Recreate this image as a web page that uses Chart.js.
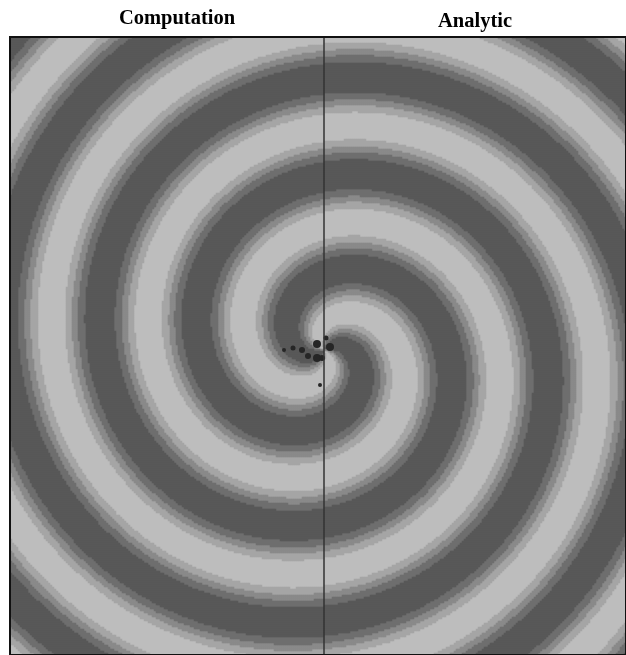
<!DOCTYPE html>
<html>
<head>
<meta charset="utf-8">
<script src="https://cdn.jsdelivr.net/npm/chart.js@4.4.0/dist/chart.umd.min.js"></script>
<style>
  html, body { margin: 0; padding: 0; background: #fff; }
  #wrap { width: 626px; height: 655px; }
</style>
</head>
<body>
<div id="wrap"><canvas id="spiral"></canvas></div>
<script>
// panel titles and where they sit (x relative to the spiral centre)
const panelTitles = ["Computation", "Analytic"];
const titleCentres = [-147, 151];

// field extent, in pixels around the spiral centre (y grows downward)
const xRange = [-314, 302];
const yRange = [-313, 305];

// contour shades, darkest first
const shades = ["#585858", "#6e6e6e", "#8a8a8a", "#a5a5a5", "#bdbdbd"];

// two-armed spiral: radial spacing between arms of the same shade
const period = 98;
// bands across one period (phase along a ray, px) and the shade of each band
const bandStart = [4, 11, 41, 48, 54, 61, 89, 96];
const bandShade = [1, 0, 1, 2, 3, 4, 3, 2];

// dark spots of the computed solution near the core
const blobX = [-7, -7, -2, -16, 6, -31, -22, -4, -40, 2];
const blobY = [-6, 8, 8, 6, -3, -2, 0, 35, 0, -12];
const blobSize = [4, 4, 3, 3, 4, 2.5, 3, 2, 2, 2.5];

const cell = 2;

function shadeAt(x, y) {
    const r = Math.sqrt(x * x + y * y);
    const theta = Math.atan2(y, x);
    let u = (r - (period / Math.PI) * theta) % period;
    if (u < 0) u += period;
    let band = bandStart.length - 1;
    for (let i = 0; i < bandStart.length; i++) {
        if (bandStart[i] <= u) band = i;
    }
    return bandShade[band];
}

// sort grid cells by shade
const cellsByShade = shades.map(() => []);
for (let y = yRange[0] + cell / 2; y < yRange[1] + cell; y += cell) {
    for (let x = xRange[0] + cell / 2; x < xRange[1] + cell; x += cell) {
        cellsByShade[shadeAt(x, y)].push({ x: x, y: y });
    }
}

const datasets = [];

// divider between the two panels (drawn on top)
datasets.push({
    type: "line",
    order: 1,
    data: [{ x: 0, y: yRange[0] }, { x: 0, y: yRange[1] }],
    borderColor: "#333",
    borderWidth: 1.5,
    pointRadius: 0,
});

datasets.push({
    type: "scatter",
    order: 2,
    data: blobX.map((x, i) => ({ x: x, y: blobY[i] })),
    backgroundColor: "#262626",
    pointRadius: blobSize,
    borderWidth: 0,
});

shades.forEach((c, i) => {
    datasets.push({
        type: "scatter",
        order: 3,
        data: cellsByShade[i],
        backgroundColor: c,
        pointStyle: "rect",
        pointRadius: 1.8,
        borderWidth: 0,
        parsing: false,
        normalized: true,
    });
});

const framePlugin = {
    id: "frame",
    afterDatasetsDraw(chart) {
        const a = chart.chartArea;
        const ctx = chart.ctx;
        ctx.save();
        ctx.strokeStyle = "#111";
        ctx.lineWidth = 2;
        ctx.strokeRect(a.left, a.top, a.right - a.left, a.bottom - a.top);
        ctx.restore();
    },
};

new Chart(document.getElementById("spiral").getContext("2d"), {
    type: "scatter",
    data: { datasets: datasets },
    options: {
        responsive: true,
        maintainAspectRatio: false,
        animation: false,
        events: [],
        layout: { autoPadding: false, padding: { left: 10, right: 0, top: 0, bottom: 0 } },
        plugins: { legend: { display: false }, tooltip: { enabled: false } },
        scales: {
            x: { type: "linear", min: xRange[0], max: xRange[1], display: false },
            y: { type: "linear", min: yRange[0], max: yRange[1], reverse: true, display: false },
            titles: {
                type: "linear",
                axis: "x",
                position: "top",
                min: xRange[0],
                max: xRange[1],
                grid: { display: false, drawTicks: false },
                border: { display: false },
                ticks: {
                    color: "#000",
                    padding: 1.6,
                    maxRotation: 0,
                    autoSkip: false,
                    // a shorter line height drops "Analytic" a little lower
                    font: (ctx) => ({
                        family: "Liberation Serif",
                        size: 20.5,
                        weight: "bold",
                        lineHeight: ctx.index === 0 ? 1.6 : 1.31,
                    }),
                    callback: (v, i) => panelTitles[i],
                },
                afterBuildTicks: (s) => { s.ticks = titleCentres.map((v) => ({ value: v })); },
                afterFit: (s) => { s.height = 37; },
            },
        },
    },
    plugins: [framePlugin],
});
</script>
</body>
</html>
